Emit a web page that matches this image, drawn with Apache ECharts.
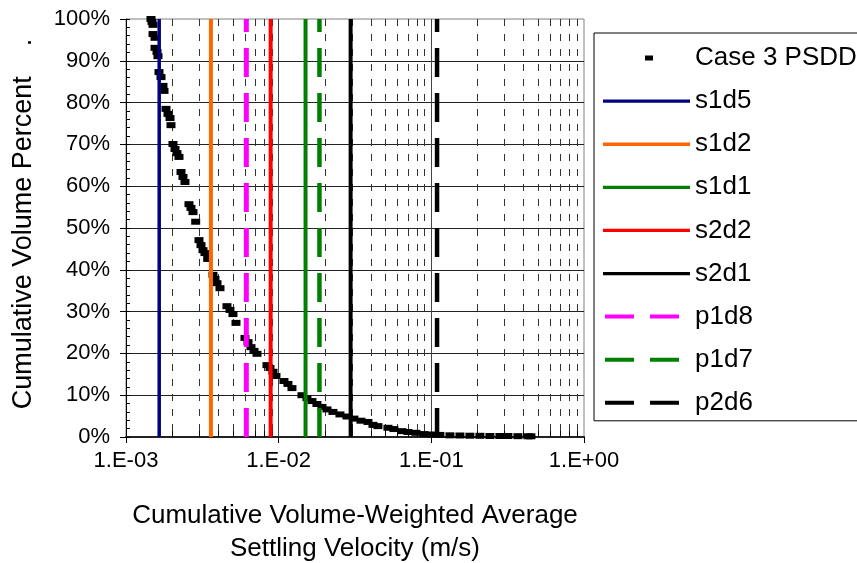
<!DOCTYPE html>
<html>
<head>
<meta charset="utf-8">
<script src="https://cdn.jsdelivr.net/npm/echarts@6/dist/echarts.min.js"></script>
<style>
html,body{margin:0;padding:0;background:#fff;}
#chart{width:857px;height:563px;}
</style>
</head>
<body>
<div id="chart"></div>
<script>
// ---- data ----
const psddVelocity = [
  1.458e-3, 1.480e-3, 1.503e-3, 1.503e-3, 1.549e-3, 1.549e-3, 1.596e-3, 1.620e-3,
  1.645e-3, 1.695e-3, 1.747e-3, 1.774e-3, 1.828e-3, 1.884e-3, 1.942e-3, 1.971e-3,
  2.031e-3, 2.094e-3, 2.158e-3, 2.224e-3, 2.292e-3, 2.362e-3, 2.434e-3,
  2.585e-3, 2.665e-3, 2.746e-3, 2.861e-3, 3.007e-3, 3.099e-3, 3.194e-3, 3.291e-3, 3.428e-3,
  3.714e-3, 3.827e-3, 3.944e-3, 4.127e-3, 4.585e-3, 4.798e-3, 5.019e-3, 5.253e-3,
  6.016e-3, 6.295e-3, 6.587e-3, 6.891e-3, 7.211e-3, 8.382e-3, 8.770e-3, 9.178e-3, 9.601e-3,
  1.083e-2, 1.150e-2, 1.222e-2, 1.421e-2, 1.532e-2, 1.652e-2, 1.781e-2, 1.921e-2, 2.072e-2,
  2.268e-2, 2.520e-2, 2.802e-2, 3.112e-2, 3.459e-2, 3.844e-2, 4.146e-2, 4.471e-2,
  5.197e-2, 5.690e-2, 6.419e-2, 7.028e-2, 7.928e-2, 8.944e-2, 0.1009, 0.1138, 0.1324,
  0.1539, 0.1789, 0.2081, 0.2420, 0.2813, 0.3174, 0.3692, 0.4292, 0.4490
];
const psddPercent = [
  100, 99.3, 98.6, 96.4, 95.5, 93.1, 92.1, 91.1,
  87.3, 86.1, 84.0, 82.8, 78.5, 77.3, 76.3, 74.6,
  70.1, 68.9, 67.9, 67.0, 63.4, 62.2, 61.0,
  55.7, 54.8, 53.8, 51.5, 47.1, 45.9, 44.7, 44.0, 42.6,
  38.8, 37.8, 36.8, 35.6, 31.3, 30.4, 29.4, 27.3,
  23.7, 22.7, 21.5, 20.6, 19.9, 17.2, 16.5, 15.6, 14.6,
  13.4, 12.7, 11.7, 10.0, 9.3, 8.6, 7.9, 7.2, 6.6,
  6.0, 5.4, 4.9, 4.4, 3.9, 3.6, 2.9, 2.6,
  2.2, 1.9, 1.4, 1.2, 1.0, 0.7, 0.6, 0.5, 0.4,
  0.36, 0.31, 0.29, 0.24, 0.24, 0.24, 0.2, 0.17, 0.17
];
const refNames = ['s1d5', 's1d2', 's1d1', 's2d2', 's2d1', 'p1d8', 'p1d7', 'p2d6'];
const refVelocity = [1.65e-3, 3.6e-3, 1.5e-2, 8.86e-3, 2.96e-2, 6.14e-3, 1.85e-2, 0.109];
const minorGridVelocity = [
  0.002, 0.003, 0.004, 0.005, 0.006, 0.007, 0.008, 0.009,
  0.02, 0.03, 0.04, 0.05, 0.06, 0.07, 0.08, 0.09,
  0.2, 0.3, 0.4, 0.5, 0.6, 0.7, 0.8, 0.9
];
const xTickLabels = ['1.E-03', '1.E-02', '1.E-01', '1.E+00'];
const yTickLabels = ['0%', '10%', '20%', '30%', '40%', '50%', '60%', '70%', '80%', '90%', '100%'];
const seriesName = 'Case 3 PSDD';
const xTitle = 'Cumulative Volume-Weighted Average\nSettling Velocity (m/s)';
const yTitle = 'Cumulative Volume Percent    .';

// ---- styles ----
const refStyles = {
  s1d5: { color: '#000080', dash: 'solid', width: 3.5 },
  s1d2: { color: '#FF6600', dash: 'solid', width: 4 },
  s1d1: { color: '#008000', dash: 'solid', width: 4 },
  s2d2: { color: '#FF0000', dash: 'solid', width: 4 },
  s2d1: { color: '#000000', dash: 'solid', width: 4 },
  p1d8: { color: '#FF00FF', dash: [29, 16], width: 5 },
  p1d7: { color: '#008000', dash: [29, 16], width: 4.5 },
  p2d6: { color: '#000000', dash: [29, 16], width: 4.5 }
};
const ICON_SOLID = 'path://M0,0M87,14M0,5.4h87v3.3h-87z';
const ICON_DASH = 'path://M0,0M87,14M2,5h29v4h-29zM47,5h29v4h-29z';
const ICON_MARK = 'path://M0,0M87,14M42,4.5h8v5h-8z';
const FONT = '"Liberation Sans", Arial, Helvetica, sans-serif';

const chart = echarts.init(document.getElementById('chart'), null, { renderer: 'canvas' });

const series = [];
series.push({
  name: 'minorGrid',
  type: 'custom',
  silent: true,
  z: 1,
  xAxisIndex: 0, yAxisIndex: 0,
  data: minorGridVelocity.map(v => [v, 0]),
  renderItem: function (params, api) {
    const v = api.value(0);
    const top = api.coord([v, 100]);
    const bot = api.coord([v, 0]);
    const x = Math.round(top[0]) + 0.5;
    return {
      type: 'group',
      children: [
        { type: 'line', shape: { x1: x, y1: top[1], x2: x, y2: bot[1] },
          style: { stroke: '#333', lineWidth: 1, lineDash: [7, 8] } },
        { type: 'line', shape: { x1: x, y1: bot[1], x2: x, y2: bot[1] - 6 },
          style: { stroke: '#000', lineWidth: 1 } }
      ]
    };
  }
});
series.push({
  name: seriesName,
  type: 'scatter',
  z: 3,
  symbol: 'rect',
  symbolSize: [9, 6],
  itemStyle: { color: '#000', opacity: 1 },
  data: psddVelocity.map((v, i) => [v, psddPercent[i]])
});
refNames.forEach((n, i) => {
  const s = refStyles[n];
  series.push({
    name: n,
    type: 'line',
    z: 4,
    symbol: 'none',
    lineStyle: { color: s.color, width: s.width, type: s.dash, cap: 'butt' },
    itemStyle: { color: s.color },
    data: [[refVelocity[i], 0], [refVelocity[i], 100]]
  });
});

const legendData = [{ name: seriesName, icon: ICON_MARK }].concat(
  refNames.map(n => ({ name: n, icon: refStyles[n].dash === 'solid' ? ICON_SOLID : ICON_DASH }))
);

const option = {
  animation: false,
  backgroundColor: '#fff',
  grid: {
    left: 126, right: 273, top: 19, bottom: 126,
    outerBoundsMode: 'none',
    containLabel: false,
    show: true, borderColor: '#808080', borderWidth: 1, backgroundColor: 'transparent'
  },
  legend: {
    orient: 'vertical',
    left: 594, top: 33,
    padding: [12, 30, 5, 9],
    itemWidth: 87, itemHeight: 14, itemGap: 17.1,
    borderColor: '#000', borderWidth: 1, backgroundColor: '#fff',
    textStyle: { fontSize: 26, color: '#000', fontFamily: FONT },
    data: legendData
  },
  xAxis: {
    type: 'log',
    logBase: 10,
    min: 0.001, max: 1,
    name: xTitle,
    nameLocation: 'middle',
    nameGap: 62,
    nameTextStyle: { fontSize: 26, lineHeight: 33, color: '#000', fontFamily: FONT },
    axisLine: { show: true, lineStyle: { color: '#222', width: 2 } },
    axisTick: { show: true, length: 6, lineStyle: { color: '#000' } },
    axisLabel: {
      fontSize: 22, color: '#000', fontFamily: FONT, margin: 13,
      formatter: function (v) {
        const e = Math.round(Math.log10(v));
        return xTickLabels[e + 3];
      }
    },
    splitLine: { show: true, showMinLine: false, showMaxLine: false, lineStyle: { color: '#444', width: 1 } }
  },
  yAxis: [{
    type: 'value',
    min: 0, max: 100, interval: 10,
    position: 'left',
    name: yTitle,
    nameLocation: 'middle',
    nameGap: 89,
    nameTextStyle: { fontSize: 27, color: '#000', fontFamily: FONT, padding: [0, 0, 0, 8] },
    axisLine: { show: true, lineStyle: { color: '#000', width: 1 } },
    axisTick: { show: true, length: 6, lineStyle: { color: '#000' } },
    axisLabel: {
      fontSize: 22, color: '#000', fontFamily: FONT, margin: 16,
      formatter: function (v) { return yTickLabels[Math.round(v / 10)]; }
    },
    splitLine: { show: true, showMaxLine: false, lineStyle: { color: '#222', width: 1 } }
  }, {
    type: 'value',
    min: 0, max: 100, interval: 10,
    position: 'left',
    axisLine: { show: false },
    axisLabel: { show: false },
    axisTick: { show: true, inside: true, length: 4, lineStyle: { color: '#000' } },
    minorTick: { show: true, splitNumber: 5, length: 4, lineStyle: { color: '#000' } },
    splitLine: { show: false }
  }],
  series: series
};
chart.setOption(option);
</script>
</body>
</html>
